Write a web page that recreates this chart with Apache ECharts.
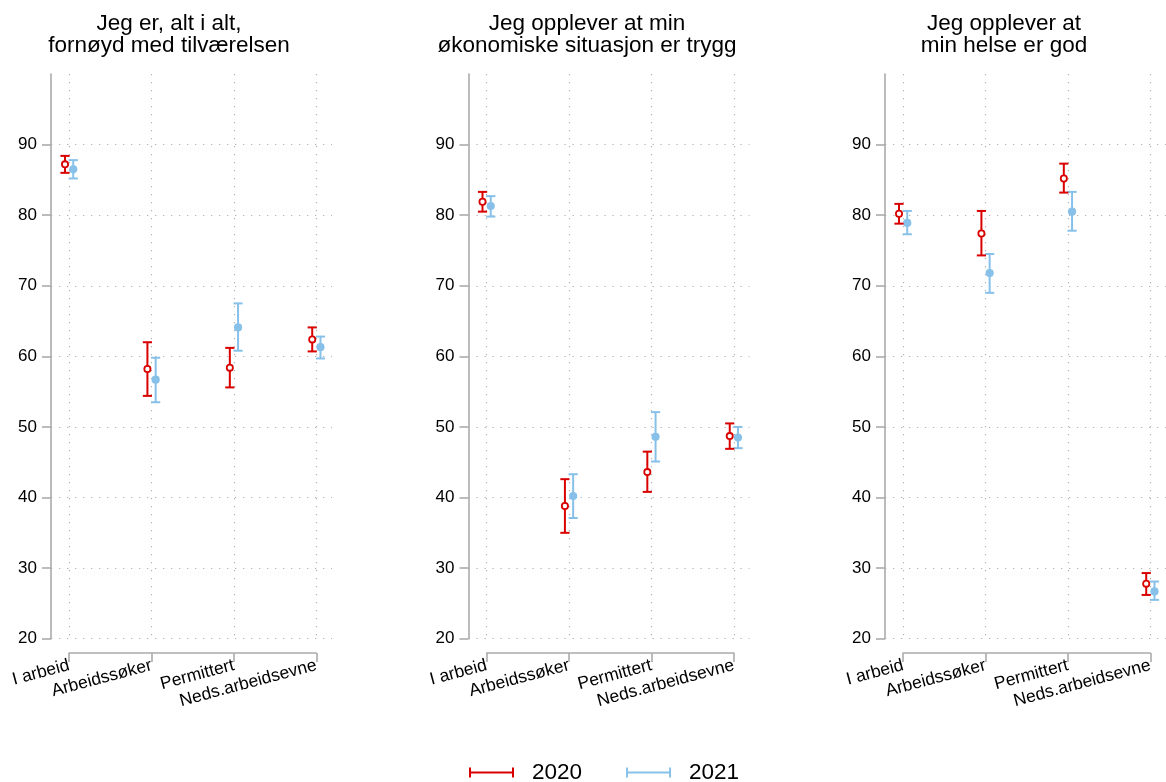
<!DOCTYPE html>
<html>
<head>
<meta charset="utf-8">
<script src="https://cdn.jsdelivr.net/npm/echarts@6/dist/echarts.min.js"></script>
<style>
html,body{margin:0;padding:0;background:#fff;}
#chart{width:1166px;height:782px;}
</style>
</head>
<body>
<div id="chart"></div>
<script>
// ---------- DATA ----------
const categories = ['I arbeid', 'Arbeidssøker', 'Permittert', 'Neds.arbeidsevne'];
const panelTitles = [
  'Jeg er, alt i alt,\nfornøyd med tilværelsen',
  'Jeg opplever at min\nøkonomiske situasjon er trygg',
  'Jeg opplever at\nmin helse er god'
];
const yTicks = [20, 30, 40, 50, 60, 70, 80, 90];
const years = ['2020', '2021'];

// Panel 1: Jeg er, alt i alt, fornøyd med tilværelsen
const p1_2020_mean = [87.2, 58.2, 58.4, 62.4];
const p1_2020_lo   = [86.0, 54.4, 55.6, 60.7];
const p1_2020_hi   = [88.4, 62.0, 61.2, 64.1];
const p1_2021_mean = [86.5, 56.7, 64.1, 61.3];
const p1_2021_lo   = [85.2, 53.5, 60.8, 59.7];
const p1_2021_hi   = [87.8, 59.8, 67.5, 62.8];

// Panel 2: Jeg opplever at min økonomiske situasjon er trygg
const p2_2020_mean = [81.9, 38.8, 43.6, 48.7];
const p2_2020_lo   = [80.5, 35.0, 40.8, 46.9];
const p2_2020_hi   = [83.3, 42.6, 46.5, 50.5];
const p2_2021_mean = [81.3, 40.2, 48.6, 48.5];
const p2_2021_lo   = [79.8, 37.1, 45.1, 47.0];
const p2_2021_hi   = [82.7, 43.3, 52.1, 50.0];

// Panel 3: Jeg opplever at min helse er god
const p3_2020_mean = [80.2, 77.4, 85.2, 27.8];
const p3_2020_lo   = [78.8, 74.3, 83.2, 26.2];
const p3_2020_hi   = [81.6, 80.6, 87.3, 29.3];
const p3_2021_mean = [78.9, 71.8, 80.5, 26.7];
const p3_2021_lo   = [77.3, 69.0, 77.8, 25.5];
const p3_2021_hi   = [80.6, 74.5, 83.3, 28.1];

const panels = [
  { y2020: [p1_2020_mean, p1_2020_lo, p1_2020_hi], y2021: [p1_2021_mean, p1_2021_lo, p1_2021_hi] },
  { y2020: [p2_2020_mean, p2_2020_lo, p2_2020_hi], y2021: [p2_2021_mean, p2_2021_lo, p2_2021_hi] },
  { y2020: [p3_2020_mean, p3_2020_lo, p3_2020_hi], y2021: [p3_2021_mean, p3_2021_lo, p3_2021_hi] }
];

// ---------- STYLE / LAYOUT ----------
const FONT = '"Liberation Sans", Arial, Helvetica, sans-serif';
const RED = '#D90000';
const BLUE = '#87C1EA';
const AXIS_GRAY = '#ababab';
const GRID_GRAY = '#b3b3b3';
const panelLeft = [51, 468.5, 885];
const titleCenter = [164, 582, 999];
const xMin = 0.78, xMax = 4.19;
const mainWidth = 281;
const scale = mainWidth / (xMax - xMin);
const plotTop = 74, plotHeight = 564.7;

function toRows(arrs) {
  return arrs[0].map((m, i) => [i + 1, m, arrs[1][i], arrs[2][i]]);
}

function makeRender(offset, filled, color) {
  return function (params, api) {
    const x = api.value(0) + offset;
    const pm = api.coord([x, api.value(1)]);
    const pl = api.coord([x, api.value(2)]);
    const ph = api.coord([x, api.value(3)]);
    const cap = 4.6;
    const ls = { stroke: color, lineWidth: 2 };
    return {
      type: 'group',
      children: [
        { type: 'line', shape: { x1: pm[0], y1: pl[1], x2: pm[0], y2: ph[1] }, style: ls },
        { type: 'line', shape: { x1: pm[0] - cap, y1: ph[1], x2: pm[0] + cap, y2: ph[1] }, style: ls },
        { type: 'line', shape: { x1: pm[0] - cap, y1: pl[1], x2: pm[0] + cap, y2: pl[1] }, style: ls },
        filled
          ? { type: 'circle', shape: { cx: pm[0], cy: pm[1], r: 4.1 }, style: { fill: color } }
          : { type: 'circle', shape: { cx: pm[0], cy: pm[1], r: 3.1 }, style: { fill: '#fff', stroke: color, lineWidth: 1.8 } }
      ]
    };
  };
}

const grids = [], xAxes = [], yAxes = [], series = [], titles = [];
panels.forEach((p, i) => {
  grids.push({ left: panelLeft[i], top: plotTop, width: mainWidth, height: plotHeight, containLabel: false });
  titles.push({
    text: panelTitles[i], left: titleCenter[i], top: 8, textAlign: 'center',
    textStyle: { fontFamily: FONT, fontSize: 22.5, fontWeight: 'normal', color: '#000', lineHeight: 22 }
  });
});
panels.forEach((p, i) => {
  grids.push({ left: panelLeft[i] + (1 - xMin) * scale, top: 652, width: 3 * scale, height: 1 });
});

panels.forEach((p, i) => {
  xAxes.push({
    type: 'value', gridIndex: i, min: xMin, max: xMax,
    axisLine: { show: false },
    axisLabel: { show: false },
    axisTick: { show: false, customValues: [1, 2, 3, 4] },
    splitLine: { show: true, lineStyle: { color: GRID_GRAY, type: [1.3, 6.7], width: 1.2 } }
  });
  yAxes.push({
    type: 'value', gridIndex: i, min: 20, max: 100,
    axisLine: { show: true, lineStyle: { color: AXIS_GRAY, width: 1.6 } },
    axisTick: { show: true, length: 9, customValues: yTicks, lineStyle: { color: AXIS_GRAY, width: 1.6 } },
    axisLabel: { show: true, customValues: yTicks, margin: 14, fontFamily: FONT, fontSize: 17, color: '#000' },
    splitLine: { show: true, lineStyle: { color: GRID_GRAY, type: [1.3, 6.7], width: 1.2 } }
  });
});
panels.forEach((p, i) => {
  xAxes.push({
    type: 'value', gridIndex: 3 + i, min: 1, max: 4, interval: 1, position: 'bottom',
    axisLine: { show: true, lineStyle: { color: AXIS_GRAY, width: 1.6 } },
    axisTick: { show: true, length: 9, lineStyle: { color: AXIS_GRAY, width: 1.6 } },
    axisLabel: {
      show: true, rotate: 15, margin: 12, fontFamily: FONT, fontSize: 17.5, color: '#000',
      showMinLabel: true, showMaxLabel: true,
      formatter: v => categories[Math.round(v) - 1] || ''
    },
    splitLine: { show: false }
  });
  yAxes.push({ type: 'value', gridIndex: 3 + i, show: false, min: 0, max: 1 });
});

panels.forEach((p, i) => {
  series.push({
    type: 'custom', name: years[0], xAxisIndex: i, yAxisIndex: i,
    itemStyle: { color: RED },
    renderItem: makeRender(-0.05, false, RED),
    encode: { x: 0, y: [1, 2, 3] },
    data: toRows(p.y2020), z: 3
  });
  series.push({
    type: 'custom', name: years[1], xAxisIndex: i, yAxisIndex: i,
    itemStyle: { color: BLUE },
    renderItem: makeRender(0.05, true, BLUE),
    encode: { x: 0, y: [1, 2, 3] },
    data: toRows(p.y2021), z: 2
  });
});

const errIcon = 'path://M0,0h2v10h-2zM0,4h45v2h-45zM43,0h2v10h-2z';

const option = {
  backgroundColor: '#fff',
  animation: false,
  title: titles,
  grid: grids,
  xAxis: xAxes,
  yAxis: yAxes,
  legend: {
    left: 464, top: 756, orient: 'horizontal',
    itemWidth: 45, itemHeight: 10, itemGap: 44,
    selectedMode: false,
    data: years.map(y => ({ name: y, icon: errIcon })),
    textStyle: { fontFamily: FONT, fontSize: 22.5, color: '#000', padding: [0, 0, 0, 13] }
  },
  series: series
};

const chart = echarts.init(document.getElementById('chart'), null, { renderer: 'canvas' });
chart.setOption(option);
</script>
</body>
</html>
